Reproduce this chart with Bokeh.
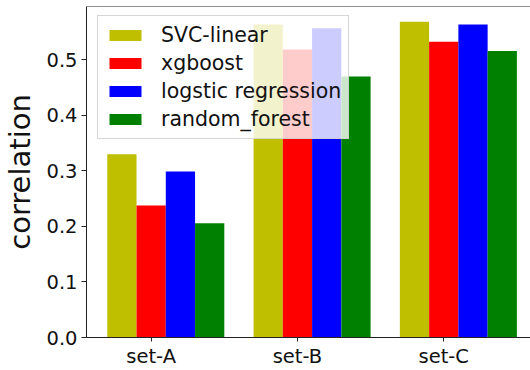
from bokeh.plotting import figure
from bokeh.models import (ColumnDataSource, Range1d, FixedTicker, Legend, LegendItem,
                          Span, NumeralTickFormatter)
from bokeh.transform import dodge
from bokeh.embed import file_html
from bokeh.resources import INLINE

sets = ["set-A", "set-B", "set-C"]
svc_linear = [0.330, 0.564, 0.569]
xgboost = [0.238, 0.519, 0.533]
logistic = [0.299, 0.557, 0.564]
random_forest = [0.206, 0.470, 0.516]
series_names = ["SVC-linear", "xgboost", "logstic regression", "random_forest"]
colors = ["#bfbf00", "#ff0000", "#0000ff", "#008000"]
offsets = [-0.2, 0.0, 0.2, 0.4]
bar_width = 0.2

idx = list(range(len(sets)))
src = ColumnDataSource(dict(x=idx, svc=svc_linear, xgb=xgboost, log=logistic, rf=random_forest))

FONT = "DejaVu Sans"

p = figure(width=530, height=370, output_backend="svg", toolbar_location=None,
           x_range=Range1d(-0.442, 2.593), y_range=Range1d(0, 0.5963),
           min_border_left=86, min_border_right=0, min_border_top=6, min_border_bottom=28)

renderers = []
for col, c, off in zip(["svc", "xgb", "log", "rf"], colors, offsets):
    r = p.vbar(x=dodge("x", off, range=p.x_range), top=col, width=bar_width,
               source=src, fill_color=c, line_color=None)
    renderers.append(r)

p.xgrid.visible = False
p.ygrid.visible = False
p.outline_line_color = None
p.background_fill_color = "white"
p.border_fill_color = "white"

top = Span(location=0.5963, dimension="width", line_color="#222222", line_width=1)
p.add_layout(top)

# x axis
p.xaxis.ticker = FixedTicker(ticks=idx)
p.xaxis.major_label_overrides = {i: s for i, s in zip(idx, sets)}
p.xaxis.minor_tick_line_color = None
p.xaxis.major_tick_out = 4
p.xaxis.major_tick_in = 0
p.xaxis.major_label_text_font = FONT
p.xaxis.major_label_text_font_size = "19.5px"
p.xaxis.major_label_text_color = "#111111"
p.xaxis.major_label_standoff = 3
p.xaxis.axis_line_color = "#222222"
p.xaxis.major_tick_line_color = "#222222"

# y axis
p.yaxis.ticker = FixedTicker(ticks=[0.0, 0.1, 0.2, 0.3, 0.4, 0.5])
p.yaxis.formatter = NumeralTickFormatter(format="0.0")
p.yaxis.minor_tick_line_color = None
p.yaxis.major_tick_out = 5
p.yaxis.major_tick_in = 0
p.yaxis.major_label_text_font = FONT
p.yaxis.major_label_text_font_size = "19.5px"
p.yaxis.major_label_text_color = "#111111"
p.yaxis.major_label_standoff = 4
p.yaxis.axis_line_color = "#222222"
p.yaxis.major_tick_line_color = "#222222"
p.yaxis.axis_label = "correlation"
p.yaxis.axis_label_text_font = FONT
p.yaxis.axis_label_text_font_size = "29px"
p.yaxis.axis_label_text_font_style = "normal"
p.yaxis.axis_label_text_color = "#111111"
p.yaxis.axis_label_standoff = 6

legend = Legend(items=[LegendItem(label=n, renderers=[r]) for n, r in zip(series_names, renderers)],
                location=(11, 198))
legend.label_text_font = FONT
legend.label_text_font_size = "20.5px"
legend.label_text_color = "#111111"
legend.glyph_width = 40
legend.glyph_height = 14
legend.label_height = 24
legend.spacing = 4
legend.padding = 7
legend.margin = 0
legend.label_standoff = 16
legend.background_fill_color = "white"
legend.background_fill_alpha = 0.8
legend.border_line_color = "#cccccc"
legend.border_line_alpha = 0.8
p.add_layout(legend)

open("out.html", "w").write(file_html(p, INLINE))
